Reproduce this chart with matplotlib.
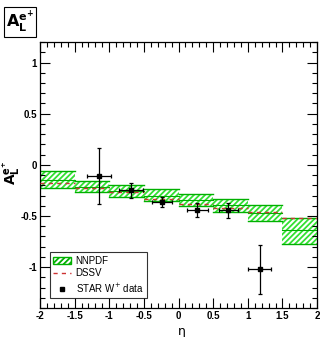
import matplotlib
matplotlib.use("Agg")
import matplotlib.pyplot as plt
from matplotlib.patches import Rectangle
from matplotlib.lines import Line2D
from matplotlib.ticker import MultipleLocator
import numpy as np

plt.rcParams['font.family'] = ['Liberation Sans', 'DejaVu Sans']
plt.rcParams['hatch.linewidth'] = 1.3

# NNPDF bands (bins in eta)
bin_lo = [-2.0, -1.5, -1.0, -0.5, 0.0, 0.5, 1.0, 1.5]
bin_hi = [-1.5, -1.0, -0.5, 0.0, 0.5, 1.0, 1.5, 2.0]
nnpdf_top = [-0.06, -0.16, -0.20, -0.24, -0.285, -0.33, -0.39, -0.52]
nnpdf_bot = [-0.23, -0.27, -0.31, -0.35, -0.40, -0.46, -0.55, -0.77]
nnpdf_mid = [-0.145, -0.22, -0.255, -0.30, -0.345, -0.39, -0.47, -0.64]
# DSSV
dssv = [-0.175, -0.23, -0.27, -0.33, -0.38, -0.42, -0.46, -0.515]
# STAR W+ data
star_eta = [-1.15, -0.69, -0.24, 0.27, 0.72, 1.17]
star_al = [-0.11, -0.25, -0.365, -0.44, -0.445, -1.02]
star_yerr = [0.275, 0.07, 0.05, 0.07, 0.075, 0.24]
star_xerr = [0.17, 0.17, 0.15, 0.15, 0.135, 0.17]

green = '#00b000'
hatch_green = '#33e033'
red = '#cc3333'

fig = plt.figure(figsize=(3.2, 3.37), dpi=100)
ax = fig.add_axes([0.125, 0.086, 0.866, 0.789])

for lo, hi, t, b, m, d in zip(bin_lo, bin_hi, nnpdf_top, nnpdf_bot, nnpdf_mid, dssv):
    ax.add_patch(Rectangle((lo, b), hi - lo, t - b, facecolor='none',
                           edgecolor=hatch_green, hatch='//////', linewidth=0, zorder=1))
    ax.plot([lo, hi], [t, t], color=green, lw=1.0, zorder=2)
    ax.plot([lo, hi], [b, b], color=green, lw=1.0, zorder=2)
    ax.plot([lo, hi], [m, m], color=green, lw=0.8, zorder=2)
    ax.plot([lo, hi], [d, d], color=red, lw=1.0, ls=(0, (3, 3)), zorder=3)

ax.errorbar(star_eta, star_al, yerr=star_yerr, xerr=star_xerr, fmt='s', color='black',
            ms=3.2, lw=0.9, capsize=1.2, capthick=0.9, zorder=4)

ax.set_xlim(-2, 2)
ax.set_ylim(-1.4, 1.2)
ax.xaxis.set_major_locator(MultipleLocator(0.5))
ax.xaxis.set_minor_locator(MultipleLocator(0.1))
ax.yaxis.set_major_locator(MultipleLocator(0.5))
ax.yaxis.set_minor_locator(MultipleLocator(0.1))
ax.tick_params(which='both', direction='in', top=True, right=True, width=0.8)
ax.tick_params(which='major', length=7, labelsize=7, pad=2)
ax.tick_params(which='minor', length=3.5)
ax.set_xticklabels([f'{v:g}' for v in ax.get_xticks()], fontweight='bold')
ax.set_yticklabels([f'{v:g}' for v in ax.get_yticks()], fontweight='bold')
for s in ax.spines.values():
    s.set_linewidth(0.9)

ax.set_xlabel('η', fontsize=9, family=['DejaVu Sans'])
ax.xaxis.set_label_coords(0.51, -0.065)
ax.set_ylabel(r'$\mathbf{A_L^{e^{+}}}$', fontsize=10, va='center', ha='center')
ax.yaxis.set_label_coords(-0.105, 0.51)

handles = [Rectangle((0, 0), 1, 1, facecolor='none', edgecolor=green, hatch='//////', lw=1.0),
           Line2D([], [], color=red, ls=(0, (3, 3)), lw=1.0),
           Line2D([], [], marker='s', color='black', ls='none', ms=3.2)]
leg = ax.legend(handles, ['NNPDF', 'DSSV', 'STAR W$^{+}$ data'], loc='lower left',
                bbox_to_anchor=(0.036, 0.038), borderaxespad=0, fontsize=7, frameon=True,
                fancybox=False, edgecolor='black', handlelength=1.8, borderpad=0.35,
                labelspacing=0.3, handletextpad=0.5)
leg.get_frame().set_linewidth(0.8)

fig.text(0.0625, 0.935, r'$\mathbf{A_L^{e^{+}}}$', fontsize=11.5, ha='center', va='center',
         bbox=dict(boxstyle='square,pad=0.12', facecolor='white', edgecolor='black', lw=0.8))

fig.savefig('out.png', dpi=100)
